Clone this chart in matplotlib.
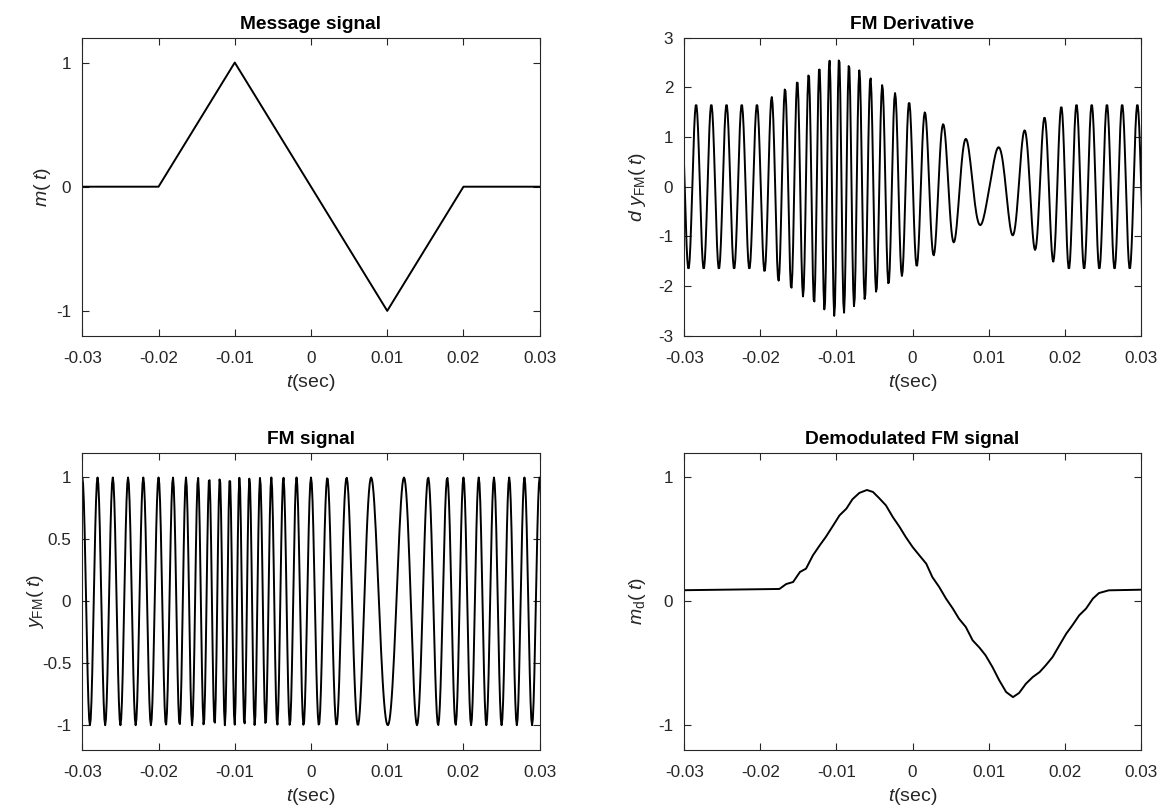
import numpy as np
import matplotlib
matplotlib.use("Agg")
import matplotlib.pyplot as plt

plt.rcParams["font.family"] = ["Liberation Sans", "DejaVu Sans"]
plt.rcParams["mathtext.fontset"] = "custom"
plt.rcParams["mathtext.rm"] = "Liberation Sans"
plt.rcParams["mathtext.it"] = "Liberation Sans:italic"
plt.rcParams["axes.unicode_minus"] = False

# message signal: triangle breakpoints (sec, value)
msg_t = [-0.04, -0.02, -0.01, 0.01, 0.02, 0.04]
msg_v = [0, 0, 1, -1, 0, 0]

# modulation settings
ts = 1e-4          # sample step
fc = 500           # carrier, Hz
kf = 600 * np.pi   # frequency sensitivity

# demodulated output
dem_t = [-0.03, -0.0175, -0.0166, -0.0157, -0.0148, -0.0140, -0.0131, -0.0122,
         -0.0114, -0.0105, -0.0096, -0.0087, -0.0079, -0.0070, -0.0060, -0.0052,
         -0.0044, -0.0035, -0.0026, -0.0017, -0.0009, 0.0, 0.0009, 0.0018,
         0.0026, 0.0035, 0.0044, 0.0053, 0.0061, 0.0070, 0.0079, 0.0088,
         0.0096, 0.0105, 0.0114, 0.0123, 0.0132, 0.0140, 0.0149, 0.0158,
         0.0167, 0.0175, 0.0184, 0.0193, 0.0202, 0.0210, 0.0219, 0.0228,
         0.0237, 0.0245, 0.0258, 0.03]
dem_v = [0.09, 0.10, 0.14, 0.156, 0.237, 0.264, 0.371, 0.452,
         0.52, 0.606, 0.694, 0.748, 0.824, 0.875, 0.899, 0.883,
         0.834, 0.775, 0.681, 0.60, 0.52, 0.439, 0.371, 0.304,
         0.196, 0.116, 0.022, -0.059, -0.14, -0.207, -0.315, -0.374,
         -0.436, -0.53, -0.638, -0.732, -0.773, -0.74, -0.665, -0.611,
         -0.571, -0.517, -0.45, -0.355, -0.261, -0.194, -0.113, -0.059,
         0.022, 0.067, 0.089, 0.094]

x_ticks = [-0.03, -0.02, -0.01, 0, 0.01, 0.02, 0.03]
x_labels = ["-0.03", "-0.02", "-0.01", "0", "0.01", "0.02", "0.03"]

# FM signal and its derivative, built from the message samples
t = np.arange(-400, 401) * ts
m = np.interp(t, msg_t, msg_v)
m_intg = kf * ts * np.cumsum(m)
s_fm = np.cos(2 * np.pi * fc * t + m_intg)
s_der = np.diff(np.concatenate([[s_fm[0]], s_fm])) / ts / kf

ink = "#262626"
W, H = 1163, 808
fig = plt.figure(figsize=(W / 100, H / 100), dpi=100)


def make_axes(x0, y0, x1, y1):
    return fig.add_axes([x0 / W, 1 - y1 / H, (x1 - x0) / W, (y1 - y0) / H])


def style(ax, title, ylabel, ylim, yticks, ylabels, ypad):
    ax.set_xlim(-0.03, 0.03)
    ax.set_ylim(*ylim)
    ax.set_xticks(x_ticks)
    ax.set_xticklabels(x_labels)
    ax.set_yticks(yticks)
    ax.set_yticklabels(ylabels)
    ax.tick_params(direction="in", length=5, width=0.8, top=True, right=True,
                   labelsize=12.3, colors=ink, pad=8)
    ax.tick_params(axis="x", pad=11)
    for sp in ax.spines.values():
        sp.set_color(ink)
        sp.set_linewidth(0.8)
    ax.set_title(title, fontsize=13.8, fontweight="bold", pad=6)
    ax.set_xlabel(r"$t$(sec)", fontsize=14, color=ink, labelpad=4)
    ax.set_ylabel(ylabel, fontsize=14, color=ink, labelpad=ypad)


lw = 1.4

ax1 = make_axes(82.3, 37.7, 539.7, 335.7)
ax1.plot(msg_t, msg_v, color="black", lw=lw)
style(ax1, "Message signal", r"$m(\;t)$", (-1.2, 1.2), [-1, 0, 1],
      ["-1", "0", "1"], 2.5)

ax2 = make_axes(684.3, 37.7, 1140.8, 335.7)
ax2.plot(t, s_der, color="black", lw=lw)
style(ax2, "FM Derivative", r"$d\ y_{\rm FM}(\;t)$", (-3, 3),
      [-3, -2, -1, 0, 1, 2, 3], ["-3", "-2", "-1", "0", "1", "2", "3"], 7)

ax3 = make_axes(82.3, 452.7, 539.7, 750)
ax3.plot(t, s_fm, color="black", lw=lw)
style(ax3, "FM signal", r"$y_{\rm FM}(\;t)$", (-1.2, 1.2),
      [-1, -0.5, 0, 0.5, 1], ["-1", "-0.5", "0", "0.5", "1"], -3)

ax4 = make_axes(684.3, 452.7, 1140.8, 750)
ax4.plot(dem_t, dem_v, color="black", lw=lw)
style(ax4, "Demodulated FM signal", r"$m_{\rm d}(\;t)$", (-1.2, 1.2),
      [-1, 0, 1], ["-1", "0", "1"], 7)

fig.savefig("out.png", dpi=100, facecolor="white")
plt.close(fig)
